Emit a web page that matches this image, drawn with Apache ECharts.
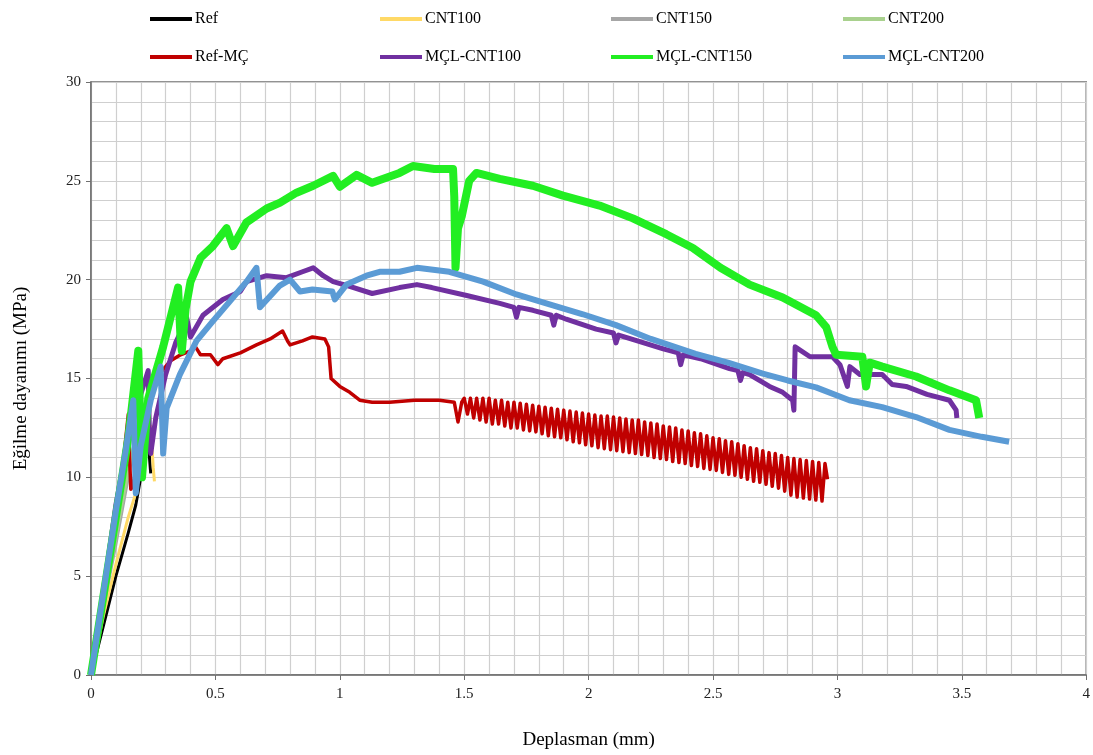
<!DOCTYPE html>
<html>
<head>
<meta charset="utf-8">
<title>Eğilme dayanımı</title>
<script src="https://cdn.jsdelivr.net/npm/echarts@6/dist/echarts.min.js"></script>
<style>
    html, body { margin: 0; padding: 0; background: #fff; }
    #main { width: 1093px; height: 755px; }
</style>
</head>
<body>
<div id="main"></div>
<script>
// seri adlari (legend sirasi)
var names = ['Ref', 'CNT100', 'CNT150', 'CNT200', 'Ref-MÇ', 'MÇL-CNT100', 'MÇL-CNT150', 'MÇL-CNT200'];
var colors = ['#000000', '#ffd966', '#a6a6a6', '#a9d18e', '#c00000', '#7030a0', '#22ee22', '#5b9bd5'];

// [deplasman (mm), gerilme (MPa)]
var ref = [[0, 0], [0.05, 2.5], [0.1, 5.0], [0.15, 7.2], [0.18, 8.6], [0.2, 10.0], [0.22, 11.5],
    [0.23, 12.9], [0.235, 11.0], [0.24, 10.2]];

var cnt100 = [[0, 0], [0.05, 3.0], [0.1, 5.6], [0.15, 8.0], [0.18, 9.2], [0.2, 10.5], [0.22, 11.8],
    [0.24, 12.6], [0.25, 10.5], [0.255, 9.8]];

var cnt150 = [[0, 0], [0.05, 3.4], [0.1, 6.6], [0.15, 10.0], [0.18, 12.0], [0.19, 10.0]];

var cnt200 = [[0, 0], [0.05, 3.6], [0.1, 7.0], [0.16, 11.0], [0.2, 13.2], [0.21, 10.5]];

var refMc = [[0, 0], [0.05, 3.8], [0.1, 7.8], [0.13, 10.8], [0.15, 13.2], [0.155, 11.0], [0.16, 9.4],
    [0.17, 9.6], [0.19, 11.5], [0.21, 13.0], [0.24, 14.3], [0.28, 15.3], [0.32, 15.9], [0.36, 16.2],
    [0.40, 16.4], [0.42, 16.6], [0.44, 16.2], [0.48, 16.2], [0.51, 15.7], [0.53, 16.0], [0.6, 16.3],
    [0.665, 16.7], [0.72, 17.0], [0.77, 17.4], [0.79, 16.9], [0.80, 16.7], [0.85, 16.9], [0.89, 17.1],
    [0.94, 17.0], [0.955, 16.6], [0.965, 15.0], [1.0, 14.6], [1.04, 14.3], [1.08, 13.9], [1.13, 13.8],
    [1.2, 13.8], [1.3, 13.9], [1.4, 13.9], [1.46, 13.8], [1.475, 12.8], [1.49, 13.8],
    // testere disli bolum
    [1.500, 14.0], [1.513, 13.2], [1.525, 14.0], [1.538, 13.0], [1.550, 14.0], [1.563, 12.9],
    [1.575, 14.0], [1.588, 12.8], [1.600, 14.0], [1.613, 12.7], [1.625, 13.9], [1.638, 12.7],
    [1.650, 13.9], [1.663, 12.6], [1.675, 13.8], [1.688, 12.5], [1.700, 13.8], [1.713, 12.5],
    [1.725, 13.75], [1.738, 12.4], [1.750, 13.7], [1.763, 12.35], [1.775, 13.65], [1.788, 12.3],
    [1.800, 13.6], [1.813, 12.2], [1.825, 13.55], [1.838, 12.1], [1.850, 13.5], [1.863, 12.05],
    [1.875, 13.45], [1.888, 12.0], [1.900, 13.4], [1.913, 11.9], [1.925, 13.35], [1.938, 11.8],
    [1.950, 13.3], [1.963, 11.75], [1.975, 13.25], [1.988, 11.65], [2.000, 13.2], [2.013, 11.6],
    [2.025, 13.15], [2.038, 11.5], [2.050, 13.1], [2.063, 11.45], [2.075, 13.1], [2.088, 11.4],
    [2.100, 13.05], [2.113, 11.35], [2.125, 13.0], [2.138, 11.3], [2.150, 12.95], [2.163, 11.25],
    [2.175, 12.9], [2.188, 11.2], [2.200, 12.9], [2.213, 11.15], [2.225, 12.8], [2.238, 11.1],
    [2.250, 12.75], [2.263, 11.0], [2.275, 12.7], [2.288, 10.95], [2.300, 12.6], [2.313, 10.9],
    [2.325, 12.55], [2.338, 10.8], [2.350, 12.5], [2.363, 10.75], [2.375, 12.4], [2.388, 10.7],
    [2.400, 12.35], [2.413, 10.6], [2.425, 12.25], [2.438, 10.55], [2.450, 12.2], [2.463, 10.45],
    [2.475, 12.1], [2.488, 10.4], [2.500, 12.0], [2.513, 10.35], [2.525, 11.95], [2.538, 10.25],
    [2.550, 11.85], [2.563, 10.15], [2.575, 11.8], [2.588, 10.1], [2.600, 11.7], [2.613, 10.0],
    [2.625, 11.6], [2.638, 9.9], [2.650, 11.5], [2.663, 9.8], [2.675, 11.45], [2.688, 9.75],
    [2.700, 11.35], [2.713, 9.65], [2.725, 11.25], [2.738, 9.55], [2.750, 11.2], [2.763, 9.45],
    [2.775, 11.1], [2.788, 9.3], [2.800, 11.0], [2.813, 9.1], [2.825, 10.95], [2.838, 9.0],
    [2.850, 10.9], [2.863, 8.95], [2.875, 10.85], [2.888, 8.9], [2.900, 10.8], [2.913, 8.85],
    [2.925, 10.75], [2.938, 8.8], [2.950, 10.7], [2.960, 9.9]];

var mclCnt100 = [[0, 0], [0.05, 4.2], [0.1, 8.6], [0.15, 12.0], [0.2, 14.2], [0.23, 15.4], [0.235, 12.0],
    [0.24, 11.2], [0.26, 13.0], [0.3, 15.2], [0.34, 16.8], [0.37, 17.6], [0.384, 18.1], [0.40, 17.1],
    [0.45, 18.2], [0.53, 19.0], [0.6, 19.4], [0.625, 19.9], [0.706, 20.2], [0.786, 20.1], [0.85, 20.4],
    [0.893, 20.6], [0.933, 20.2], [0.973, 19.9], [1.03, 19.7], [1.13, 19.3], [1.24, 19.6], [1.31, 19.75],
    [1.37, 19.6], [1.51, 19.2], [1.643, 18.8], [1.70, 18.6], [1.71, 18.1], [1.72, 18.6], [1.776, 18.45],
    [1.85, 18.2], [1.86, 17.7], [1.87, 18.2], [1.91, 18.0], [2.03, 17.5], [2.1, 17.3], [2.11, 16.8],
    [2.12, 17.2], [2.17, 17.0], [2.3, 16.5], [2.36, 16.3], [2.37, 15.7], [2.38, 16.2], [2.45, 16.0],
    [2.566, 15.5], [2.6, 15.4], [2.61, 14.9], [2.62, 15.3], [2.647, 15.2], [2.70, 14.8], [2.727, 14.6],
    [2.78, 14.3], [2.82, 13.9], [2.825, 13.4], [2.83, 16.6], [2.89, 16.1], [2.98, 16.1], [3.01, 15.7],
    [3.04, 14.6], [3.05, 15.6], [3.09, 15.2], [3.18, 15.2], [3.22, 14.7], [3.276, 14.6], [3.36, 14.2],
    [3.45, 13.9], [3.477, 13.4], [3.48, 13.0]];

var mclCnt150 = [[0, 0], [0.05, 4.0], [0.1, 8.0], [0.15, 12.0], [0.19, 16.4], [0.2, 12.0], [0.205, 10.0],
    [0.23, 14.0], [0.29, 16.6], [0.35, 19.6], [0.36, 17.0], [0.365, 16.4], [0.38, 18.5], [0.40, 19.9],
    [0.44, 21.1], [0.49, 21.7], [0.545, 22.6], [0.571, 21.7], [0.625, 22.9], [0.706, 23.6], [0.76, 23.9],
    [0.826, 24.4], [0.893, 24.75], [0.973, 25.25], [1.0, 24.7], [1.067, 25.3], [1.13, 24.9], [1.24, 25.4],
    [1.294, 25.75], [1.38, 25.6], [1.455, 25.6], [1.46, 24.2], [1.465, 20.6], [1.475, 22.6], [1.49, 23.2],
    [1.52, 25.0], [1.549, 25.4], [1.643, 25.1], [1.776, 24.75], [1.897, 24.25], [2.044, 23.75],
    [2.178, 23.1], [2.312, 22.3], [2.419, 21.6], [2.53, 20.6], [2.647, 19.75], [2.78, 19.1],
    [2.914, 18.2], [2.955, 17.6], [2.98, 16.6], [2.995, 16.2], [3.10, 16.1], [3.115, 14.6], [3.13, 15.8],
    [3.18, 15.6], [3.316, 15.1], [3.45, 14.4], [3.557, 13.9], [3.57, 13.0]];

var mclCnt200 = [[0, 0], [0.05, 4.2], [0.1, 8.3], [0.14, 11.4], [0.17, 13.9], [0.18, 9.2], [0.2, 11.6],
    [0.24, 13.9], [0.28, 15.6], [0.29, 11.2], [0.304, 13.5], [0.357, 15.2], [0.424, 16.9], [0.49, 17.9],
    [0.558, 18.9], [0.625, 19.9], [0.665, 20.6], [0.679, 18.6], [0.759, 19.7], [0.8, 20.0], [0.84, 19.4],
    [0.89, 19.5], [0.97, 19.4], [0.98, 19.0], [1.027, 19.75], [1.107, 20.2], [1.16, 20.4], [1.24, 20.4],
    [1.31, 20.6], [1.44, 20.4], [1.576, 19.9], [1.71, 19.25], [1.843, 18.75], [1.977, 18.25],
    [2.11, 17.7], [2.25, 17.0], [2.43, 16.25], [2.56, 15.8], [2.70, 15.25], [2.8, 14.9], [2.914, 14.55],
    [3.048, 13.9], [3.18, 13.55], [3.316, 13.05], [3.45, 12.4], [3.58, 12.05], [3.69, 11.8]];

var seriesData = [ref, cnt100, cnt150, cnt200, refMc, mclCnt100, mclCnt150, mclCnt200];
var lineWidths = [3, 3, 3, 3, 3.5, 5, 8, 6];

var serif = '"Liberation Serif", "DejaVu Serif", serif';
var chart = echarts.init(document.getElementById('main'));

// legend: 2 satir x 4 sutun
var legendLeft = [145, 375, 606, 838];
var legendTop = [6, 44];
var legends = [];
for (var i = 0; i < names.length; i++) {
    legends.push({
        data: [names[i]],
        left: legendLeft[i % 4],
        top: legendTop[Math.floor(i / 4)],
        icon: 'rect',
        itemWidth: 42,
        itemHeight: 4,
        itemGap: 0,
        selectedMode: false,
        textStyle: { fontFamily: serif, fontSize: 16, color: '#000', padding: [0, 0, 0, -2] }
    });
}

var series = [];
for (var i = 0; i < names.length; i++) {
    series.push({
        name: names[i],
        type: 'line',
        data: seriesData[i],
        showSymbol: false,
        symbol: 'none',
        color: colors[i],
        lineStyle: { width: lineWidths[i], color: colors[i], join: 'round' },
        z: 2 + i
    });
}

var option = {
    animation: false,
    backgroundColor: '#fff',
    legend: legends,
    grid: {
        left: 91, right: 6, top: 82, bottom: 74,
        show: true, borderColor: '#6f6f6f', borderWidth: 1.5, backgroundColor: 'transparent'
    },
    xAxis: {
        type: 'value',
        min: 0, max: 4, interval: 0.5,
        name: 'Deplasman (mm)',
        nameLocation: 'middle',
        nameGap: 56,
        nameTextStyle: { fontFamily: serif, fontSize: 19, color: '#000' },
        axisLine: { show: true, lineStyle: { color: '#6f6f6f', width: 1.5 } },
        axisTick: { show: true, length: 5, lineStyle: { color: '#6f6f6f' } },
        axisLabel: { fontFamily: serif, fontSize: 15, color: '#222', margin: 12 },
        splitLine: { show: true, lineStyle: { color: '#cfcfcf', width: 1.2 } },
        minorTick: { show: false, splitNumber: 5 },
        minorSplitLine: { show: true, lineStyle: { color: '#cfcfcf', width: 1.2 } }
    },
    yAxis: {
        type: 'value',
        min: 0, max: 30, interval: 5,
        name: 'Eğilme dayanımı (MPa)',
        nameLocation: 'middle',
        nameGap: 60,
        nameTextStyle: { fontFamily: serif, fontSize: 19, color: '#000' },
        axisLine: { show: true, lineStyle: { color: '#6f6f6f', width: 1.5 } },
        axisTick: { show: true, length: 5, lineStyle: { color: '#6f6f6f' } },
        axisLabel: { fontFamily: serif, fontSize: 15, color: '#222', margin: 10 },
        splitLine: { show: true, lineStyle: { color: '#cfcfcf', width: 1.2 } },
        minorTick: { show: false, splitNumber: 5 },
        minorSplitLine: { show: true, lineStyle: { color: '#cfcfcf', width: 1.2 } }
    },
    series: series
};

chart.setOption(option);
</script>
</body>
</html>
